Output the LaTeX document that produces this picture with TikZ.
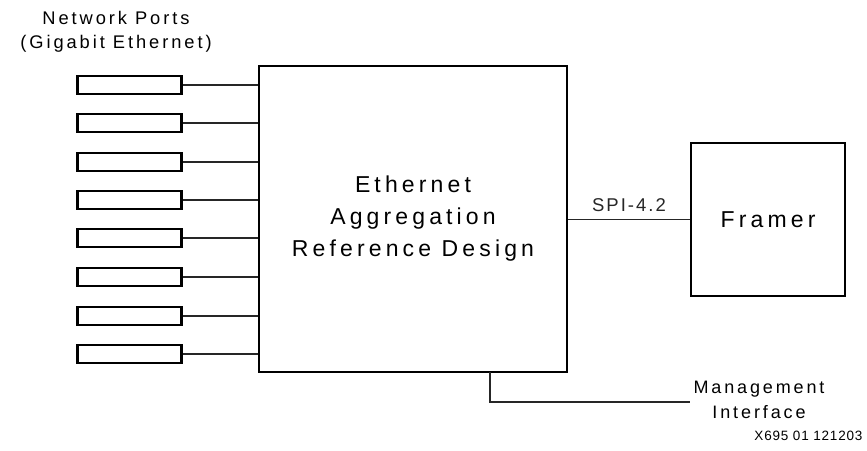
\documentclass[tikz,border=0pt]{standalone}
\usepackage{fontspec}
\setmainfont{Liberation Sans}[LetterSpace=18]
\newfontfamily\titlefont{Liberation Sans}[LetterSpace=16]
\newfontfamily\spifont{Liberation Sans}[LetterSpace=11]
\newfontfamily\idfont{Liberation Sans}[LetterSpace=6]
\begin{document}
\begin{tikzpicture}[x=1pt,y=-1pt,
  portbox/.style={draw, line width=2.6pt, minimum width=104pt, minimum height=18pt, inner sep=0pt},
  bigbox/.style={draw, line width=2.6pt, inner sep=0pt},
  wire/.style={line width=1.1pt, black!85},
  bigtext/.style={font=\fontsize{23}{32}\selectfont, align=center},
  midtext/.style={font=\titlefont\fontsize{18.3}{24}\selectfont, align=center}]
\useasboundingbox (0,0) rectangle (867,450);
\node[midtext] (title) at (116,32) {Network Ports\\(Gigabit Ethernet)};
\node[bigbox, minimum width=308pt, minimum height=306pt, bigtext] (main) at (413,219) {Ethernet\\Aggregation\\Reference Design};
\node[bigbox, minimum width=154pt, minimum height=153pt, bigtext] (framer) at (768,219.5) {Framer};
\foreach \i/\y in {1/85,2/123,3/162,4/200,5/238,6/277,7/316,8/354}{
  \node[portbox] (p\i) at (129.5,\y) {};
  \draw[wire] (p\i.east) -- (p\i.east -| main.west);
}
\draw[wire] (main.east |- framer.west) -- node[above=4pt, font=\spifont\fontsize{18.5}{22}\selectfont] (spi) {SPI-4.2} (framer.west);
\coordinate (mtap) at (490,372);
\coordinate (mend) at (690,402);
\draw[wire] (mtap) |- (mend);
\node[midtext, font=\titlefont\fontsize{18}{25}\selectfont] (mgmt) at (759,399.5) {Management\\Interface};
\node[font=\idfont\fontsize{13.5}{16}\selectfont, anchor=east] (fig) at (866,436) {X695 01 121203};
\end{tikzpicture}
\end{document}
